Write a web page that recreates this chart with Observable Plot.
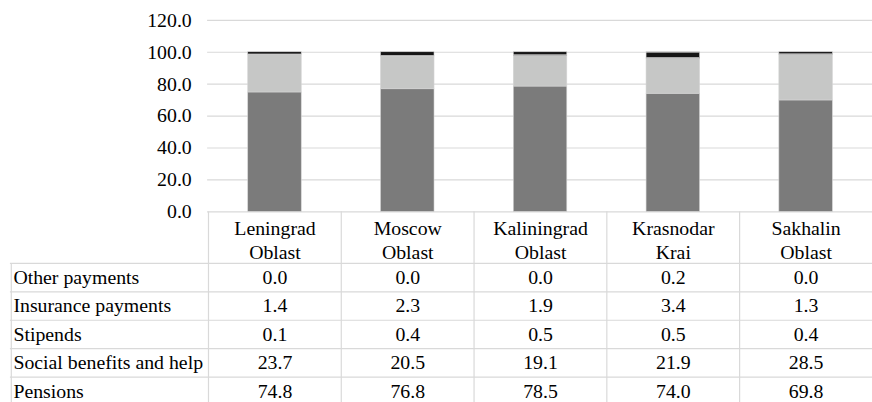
<!DOCTYPE html>
<html>
<head>
<meta charset="utf-8">
<script src="https://cdn.jsdelivr.net/npm/d3@7"></script>
<script src="https://cdn.jsdelivr.net/npm/@observablehq/plot@0.6"></script>
<style>
  html, body { margin: 0; padding: 0; background: #fff; overflow: hidden; font-family: "Liberation Serif", Tinos, "Times New Roman", serif; }
  #chart svg { display: block; }
</style>
</head>
<body>
<div id="chart"></div>
<script>
const regions = ["Leningrad Oblast", "Moscow Oblast", "Kaliningrad Oblast", "Krasnodar Krai", "Sakhalin Oblast"];
const pensions = [74.8, 76.8, 78.5, 74.0, 69.8];
const social = [23.7, 20.5, 19.1, 21.9, 28.5];
const stipends = [0.1, 0.4, 0.5, 0.5, 0.4];
const insurance = [1.4, 2.3, 1.9, 3.4, 1.3];
const other = [0.0, 0.0, 0.0, 0.2, 0.0];
const seriesNames = ["Pensions", "Social benefits and help", "Stipends", "Insurance payments", "Other payments"];
const seriesValues = [pensions, social, stipends, insurance, other];
const seriesColors = ["#7b7b7b", "#c6c7c6", "#4a4a4a", "#161616", "#9a9a9a"];
const yTicks = [0, 20, 40, 60, 80, 100, 120];
const tableOrder = ["Other payments", "Insurance payments", "Stipends", "Social benefits and help", "Pensions"];

const data = [];
seriesNames.forEach((s, si) => regions.forEach((r, ri) => data.push({series: s, region: r, value: seriesValues[si][ri]})));

const W = 880, H = 410, mL = 209, mT = 20, mB = 196.7;
const plotH = H - mT - mB;
const bw = (W - mL) / regions.length;
const rowH = 28.7;
const firstRowLine = 52;
const gridColor = "#d9d9d9";
const font = "Liberation Serif";

const marks = [];
marks.push(Plot.ruleY(yTicks, {stroke: gridColor, strokeWidth: 1.2}));
marks.push(Plot.barY(data, {x: "region", y: "value", fill: "series", order: seriesNames, stroke: "#d4d4d4", strokeWidth: 0.6}));
tableOrder.forEach((_, i) => {
  marks.push(Plot.ruleY([0], {dy: firstRowLine + i * rowH, insetLeft: -(mL - 10), stroke: gridColor, strokeWidth: 1.2}));
});
marks.push(Plot.ruleX(regions, {x: d => d, dx: -bw / 2, insetTop: plotH, insetBottom: -mB, stroke: gridColor, strokeWidth: 1.2}));
marks.push(Plot.ruleX([regions[0]], {x: d => d, dx: -bw / 2 - (mL - 10), insetTop: plotH + firstRowLine, insetBottom: -mB, stroke: gridColor, strokeWidth: 1.2}));
marks.push(Plot.text(regions, {x: d => d, text: d => d.replace(" ", "\n"), frameAnchor: "bottom", dy: 28, lineAnchor: "middle", lineHeight: 1.2, fontSize: 20, fontFamily: font, fill: "#000"}));
tableOrder.forEach((name, i) => {
  const si = seriesNames.indexOf(name);
  marks.push(Plot.text([name], {frameAnchor: "bottom-left", text: d => d, dx: -(mL - 13), dy: firstRowLine + rowH / 2 + i * rowH, textAnchor: "start", lineAnchor: "middle", fontSize: 20, fontFamily: font, fill: "#000"}));
  marks.push(Plot.text(regions.map((r, ri) => ({region: r, v: seriesValues[si][ri]})), {x: "region", text: d => d.v.toFixed(1), frameAnchor: "bottom", dy: firstRowLine + rowH / 2 + i * rowH, lineAnchor: "middle", fontSize: 20, fontFamily: font, fill: "#000"}));
});

const chart = Plot.plot({
  width: W,
  height: H,
  marginLeft: mL,
  marginRight: 0,
  marginTop: mT,
  marginBottom: mB,
  style: {fontFamily: font, fontSize: "20px", color: "#000", background: "#fff"},
  x: {domain: regions, paddingInner: 0.6, paddingOuter: 0.3, axis: null},
  y: {domain: [0, 120], ticks: yTicks, tickFormat: d => d.toFixed(1), tickSize: 0, tickPadding: 16, label: null, fontSize: 20},
  color: {domain: seriesNames, range: seriesColors},
  marks
});
chart.setAttribute("font-family", font);
chart.style.setProperty("font-family", font, "important");
chart.querySelectorAll("g, text, tspan").forEach(el => {
  if (el.hasAttribute("font-family")) el.setAttribute("font-family", font);
  el.style.setProperty("font-family", font, "important");
  if (el.hasAttribute("font-variant")) el.removeAttribute("font-variant");
});
document.getElementById("chart").appendChild(chart);
</script>
</body>
</html>
